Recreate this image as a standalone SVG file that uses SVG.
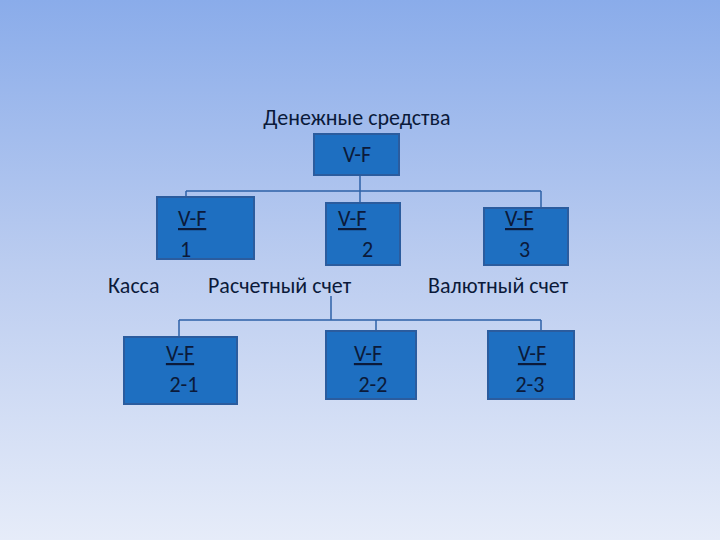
<svg xmlns="http://www.w3.org/2000/svg" width="720" height="540" viewBox="0 0 720 540">
<defs>
<linearGradient id="bg" x1="0" y1="0" x2="0" y2="1">
<stop offset="0" stop-color="#8aacea"/>
<stop offset="0.5" stop-color="#bccdf0"/>
<stop offset="1" stop-color="#e6ecf9"/>
</linearGradient>
<style>
.b{fill:#1e6fc1;stroke:#2b5c9e;stroke-width:2}
.t{font-family:Calibri,"Liberation Sans","DejaVu Sans",sans-serif;font-size:22px;fill:#0b1a3a}
.u{text-decoration:underline}
.c{fill:none;stroke:#2e62a8;stroke-width:1.5}
</style>
</defs>
<rect width="720" height="540" fill="url(#bg)"/>
<g id="connectors">
<path class="c" d="M360 175V191M186 191H541M186 191V198M541 191V208M360 191V204"/>
<path class="c" d="M331 296V320M179 320H541M179 320V338M376 320V332M541 320V332"/>
</g>
<g id="root">
<text class="t" x="357" y="125" text-anchor="middle">Денежные средства</text>
<rect class="b" x="314" y="134" width="85" height="41"/>
<text class="t" x="357" y="162" text-anchor="middle">V-F</text>
</g>
<g id="n1">
<rect class="b" x="157" y="197" width="97" height="62"/>
<text class="t u" x="178" y="226">V-F</text>
<text class="t" x="180" y="257">1</text>
<text class="t" x="108" y="293">Касса</text>
</g>
<g id="n2">
<rect class="b" x="326" y="203" width="74" height="62"/>
<text class="t u" x="338" y="226">V-F</text>
<text class="t" x="362" y="257">2</text>
<text class="t" x="208" y="293">Расчетный счет</text>
</g>
<g id="n3">
<rect class="b" x="484" y="208" width="84" height="57"/>
<text class="t u" x="505" y="226">V-F</text>
<text class="t" x="519" y="257">3</text>
<text class="t" x="428" y="293">Валютный счет</text>
</g>
<g id="n21">
<rect class="b" x="124" y="337" width="113" height="67"/>
<text class="t u" x="180" y="361" text-anchor="middle">V-F</text>
<text class="t" x="184" y="392" text-anchor="middle">2-1</text>
</g>
<g id="n22">
<rect class="b" x="326" y="331" width="90" height="68"/>
<text class="t u" x="368" y="361" text-anchor="middle">V-F</text>
<text class="t" x="373" y="392" text-anchor="middle">2-2</text>
</g>
<g id="n23">
<rect class="b" x="488" y="331" width="86" height="68"/>
<text class="t u" x="532" y="361" text-anchor="middle">V-F</text>
<text class="t" x="530" y="392" text-anchor="middle">2-3</text>
</g>
</svg>
